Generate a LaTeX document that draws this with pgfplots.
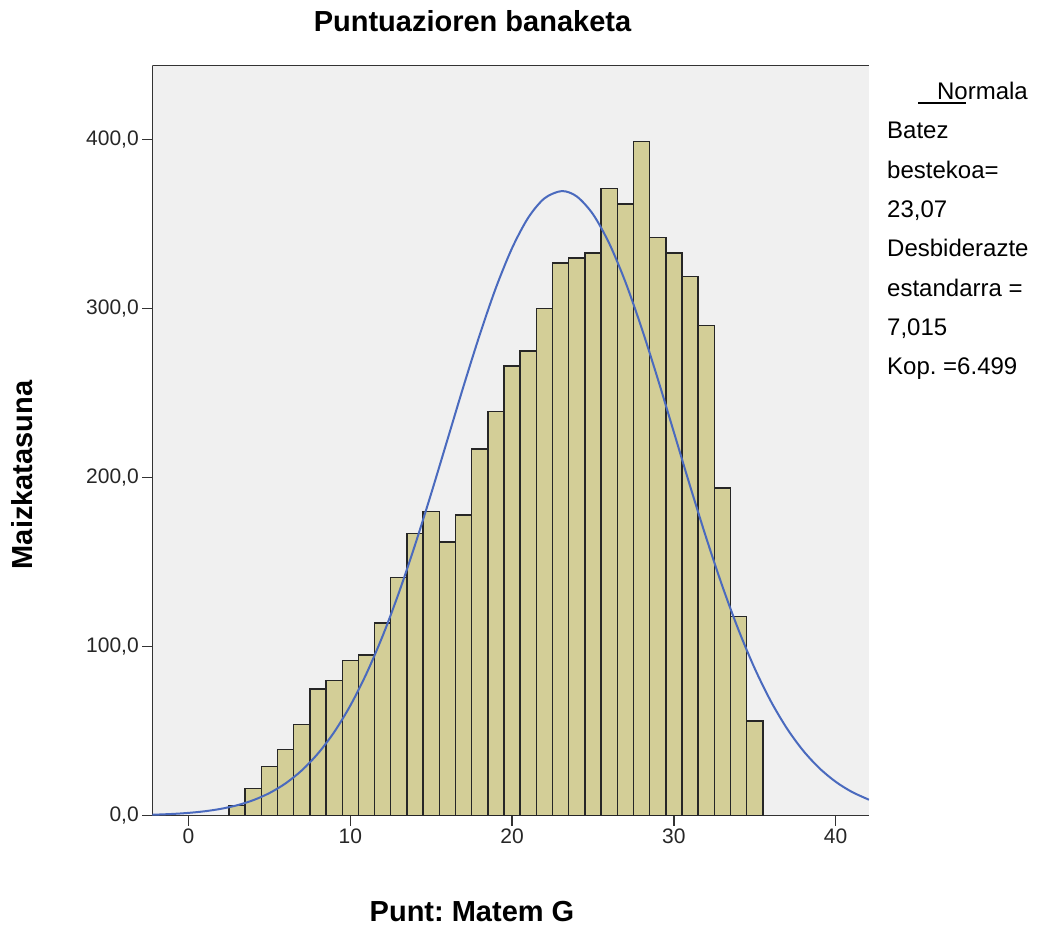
\documentclass[border=0pt]{standalone}
\usepackage{fontspec}
\setmainfont{Liberation Sans}
\usepackage{pgfplots}
\pgfplotsset{compat=1.18}

\definecolor{bgcol}{HTML}{F0F0F0}
\definecolor{barfill}{HTML}{D3CE97}
\definecolor{curveblue}{RGB}{74,106,190}
\definecolor{axiscol}{HTML}{333333}

\newcommand{\tickfont}{\fontsize{21}{25}\selectfont}
\newcommand{\sidefont}{\fontsize{24}{28}\selectfont}
\newcommand{\labfont}{\fontsize{29}{34}\selectfont\bfseries}

\begin{document}
\frenchspacing
\begin{tikzpicture}
\useasboundingbox (0pt,0pt) rectangle (1037pt,928pt);

\begin{axis}[
    at={(152.3pt,112.3pt)}, anchor=south west,
    scale only axis,
    width=716.7pt, height=750pt,
    xmin=-2.24, xmax=42.06,
    ymin=0, ymax=443.8,
    axis x line*=bottom, axis y line*=left,
    axis line style={axiscol, line width=1.6pt},
    axis background/.style={fill=bgcol},
    xtick={0,10,20,30,40},
    xticklabels={0,10,20,30,40},
    ytick={0,100,200,300,400},
    yticklabels={{0,0},{100,0},{200,0},{300,0},{400,0}},
    tick align=outside,
    major tick length=10pt,
    tick style={axiscol, line width=1.3pt},
    ticklabel style={font=\tickfont, text=black!85},
]

% histogram, bins of width 1
\addplot[ybar, bar width=1, bar shift=0pt, fill=barfill, draw=black!85, line width=1.4pt]
coordinates {
    (3,6) (4,16) (5,29) (6,39) (7,54) (8,75) (9,80) (10,92)
    (11,95) (12,114) (13,141) (14,167) (15,180) (16,162) (17,178)
    (18,217) (19,239) (20,266) (21,275) (22,300) (23,327) (24,330)
    (25,333) (26,371) (27,362) (28,399) (29,342) (30,333) (31,319)
    (32,290) (33,194) (34,118) (35,56)
};

% normal curve (mean 23,07, sd 7,015, N 6499)
\addplot[smooth, line width=2pt, color=curveblue]
coordinates {
    (-2.24,0.55) (-1,1.03) (0,1.66) (1,2.62) (2,4.06) (3,6.17)
    (4,9.18) (5,13.39) (6,19.14) (7,26.80) (8,36.80) (9,49.43)
    (10,65.16) (11,84.14) (12,106.4) (13,131.9) (14,160.2) (15,190.7)
    (16,222.4) (17,254.2) (18,284.6) (19,312.4) (20,335.9) (21,353.9)
    (22,365.3) (23.07,369.6) (24,366.4) (25,355.9) (26,338.7)
    (27,315.9) (28,288.7) (29,258.6) (30,226.9) (31,195.1) (32,164.4)
    (33,135.7) (34,109.8) (35,87.04) (36,67.60) (37,51.45) (38,38.37)
    (39,28.05) (40,20.08) (41,14.09) (42.06,9.45)
};

\draw[axiscol, line width=1.6pt] (rel axis cs:0,1) -- (rel axis cs:1,1);
\end{axis}

% title and axis labels
\node[anchor=base, font=\labfont] at (472.5pt,896pt) {Puntuazioren banaketa};
\node[anchor=base, font=\labfont] at (472pt,6pt) {Punt: Matem G};
\node[rotate=90, font=\labfont] at (22pt,453pt) {Maizkatasuna};

% side legend
\node[anchor=base east, font=\sidefont, inner sep=0pt] at (1028pt,828pt) {Normala};
\draw[black, line width=1.8pt] (918pt,825pt) -- (966pt,825pt);
\node[anchor=base west, font=\sidefont, inner sep=0pt] at (887pt,789pt) {Batez};
\node[anchor=base west, font=\sidefont, inner sep=0pt] at (887pt,749pt) {bestekoa=};
\node[anchor=base west, font=\sidefont, inner sep=0pt] at (887pt,710pt) {23,07};
\node[anchor=base west, font=\sidefont, inner sep=0pt] at (887pt,671pt) {Desbiderazte};
\node[anchor=base west, font=\sidefont, inner sep=0pt] at (887pt,631pt) {estandarra =};
\node[anchor=base west, font=\sidefont, inner sep=0pt] at (887pt,592pt) {7,015};
\node[anchor=base west, font=\sidefont, inner sep=0pt] at (887pt,553pt) {Kop. =6.499};
\end{tikzpicture}
\end{document}
